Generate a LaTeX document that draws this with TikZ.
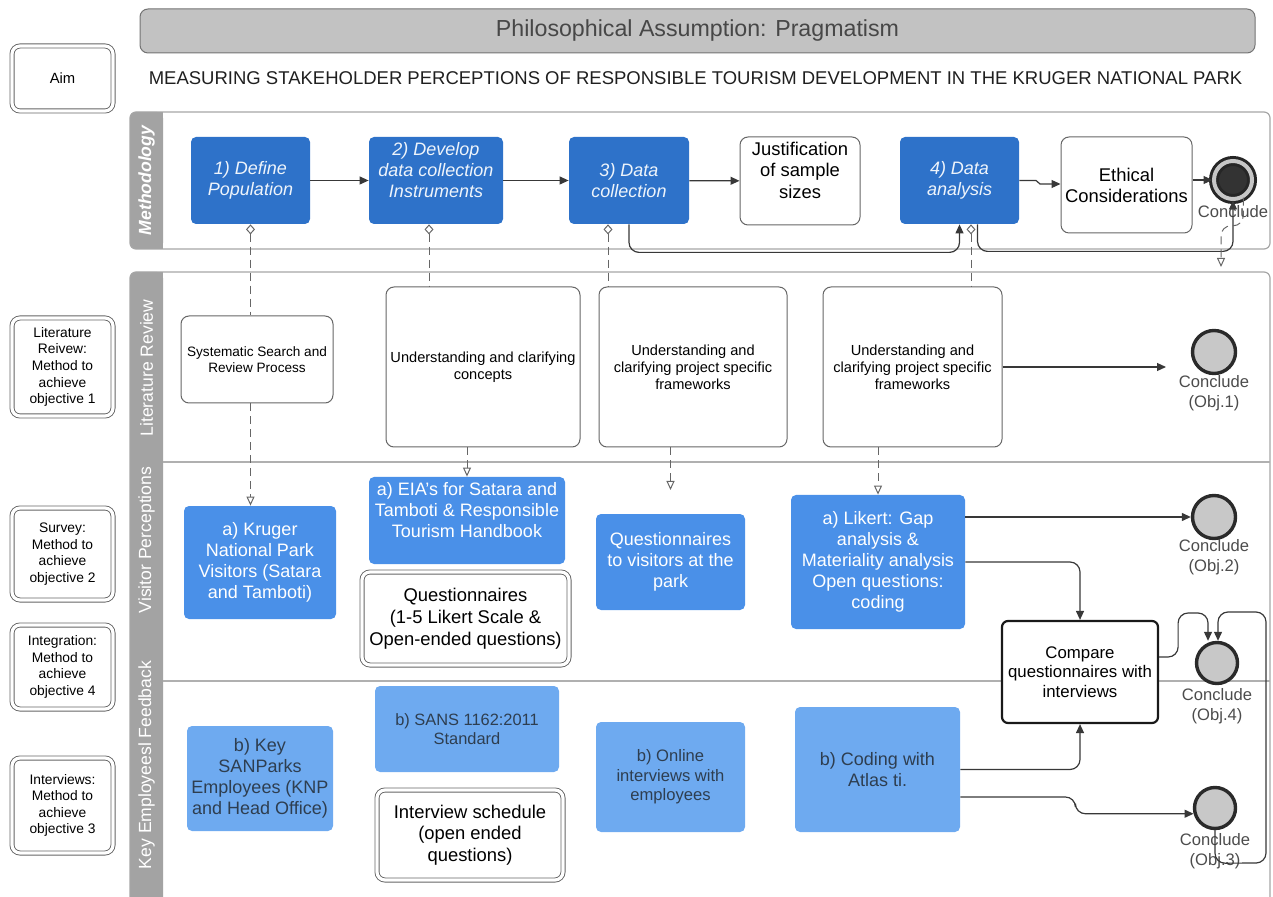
\documentclass[tikz,border=0pt]{standalone}
\usepackage{fontspec}
\setmainfont{Liberation Sans}
\usetikzlibrary{arrows.meta}
\newcommand{\myfs}[2]{\fontsize{#1}{#2}\selectfont}
\definecolor{dblue}{HTML}{2E72C9}
\definecolor{mblue}{HTML}{4A90E8}
\definecolor{lblue}{HTML}{6EAAF0}
\definecolor{bandc}{HTML}{A3A3A3}
\definecolor{titlegray}{HTML}{C2C2C2}
\definecolor{linegray}{HTML}{B0B0B0}
\definecolor{circfill}{HTML}{C8C8C8}
\definecolor{circdraw}{HTML}{2A2A2A}
\definecolor{slate}{HTML}{2E3E50}
\begin{document}
\begin{tikzpicture}[x=0.5pt,y=-0.5pt,
  wh/.style 2 args={minimum width=#1*0.5pt, minimum height=#2*0.5pt},
  bx/.style={rectangle, rounded corners=2.5pt, align=center, inner sep=1pt},
  mbox/.style={bx, fill=dblue, text=white!92!dblue, font=\myfs{9}{10.4}\itshape},
  vbox/.style={bx, fill=mblue, text=white, font=\myfs{9}{10.5}},
  kbox/.style={bx, fill=lblue, text=slate, font=\myfs{9}{10.5}},
  wbox/.style={bx, rounded corners=4pt, draw=black!60, line width=0.5pt, fill=white, text=black},
  dbox/.style={bx, rounded corners=4pt, draw=black!60, line width=0.45pt, double=white, double distance=1.6pt, fill=white, text=black},
  cmpbox/.style={bx, rounded corners=3pt, draw=black!90, line width=1.1pt, fill=white, font=\myfs{8.4}{9.8}},
  endc/.style={circle, draw=circdraw, line width=1.7pt, fill=circfill, inner sep=0pt},
  ctxt/.style={align=center, inner sep=0pt, text=black!70, font=\myfs{8.3}{10}},
  lanetxt/.style={rotate=90, text=white, inner sep=0pt, font=\myfs{8.8}{10}},
  arr/.style={draw=black!78, line width=0.6pt, -{Triangle[length=4.5pt,width=4pt]}},
  dsh/.style={draw=black!60, line width=0.5pt, dash pattern=on 4pt off 2.5pt},
  dstart/.style={{Diamond[open,length=5pt,width=4.5pt]}-},
  dend/.style={-{Triangle[open,length=4.5pt,width=4pt]}},
  pool/.style={draw=black!35, line width=0.6pt}
]
\useasboundingbox (0,0) rectangle (1273,897);

% ---- pools ----
\fill[bandc, rounded corners=3pt] (130,112) rectangle (163,249);
\fill[bandc] (150,112) rectangle (163,249);
\draw[pool, rounded corners=3pt] (130,112) rectangle (1270,249);

\fill[bandc, rounded corners=3pt] (130,272) rectangle (163,910);
\fill[bandc] (150,272) rectangle (163,910);
\draw[pool, rounded corners=3pt] (130,910) -- (130,272) -- (1270,272) -- (1270,910);
\draw[linegray, line width=0.6pt] (163,462) -- (1270,462);
\draw[linegray, line width=0.6pt] (163,681) -- (1270,681);

% ---- header ----
\node[bx, rounded corners=4pt, draw=black!55, line width=0.5pt, fill=titlegray, wh={1115}{44}, font=\myfs{11.6}{13}, text=black!72] (title) at (697.5,31) {Philosophical Assumption: Pragmatism};
\node[dbox, wh={101}{65}, font=\myfs{7.4}{8.6}] (aim) at (62.5,78.5) {Aim};
\node[inner sep=0pt, font=\myfs{9.25}{11}, text=black!88] (aimtxt) at (695.5,78) {MEASURING STAKEHOLDER PERCEPTIONS OF RESPONSIBLE TOURISM DEVELOPMENT IN THE KRUGER NATIONAL PARK};

% ---- lane labels ----
\node[lanetxt, font=\myfs{8.8}{10}\bfseries\itshape] (mlab) at (146.5,180.5) {Methodology};
\node[lanetxt] (llab) at (146.5,368) {Literature Review};
\node[lanetxt] (vlab) at (146.5,540) {Visitor Perceptions};
\node[lanetxt] (klab) at (146.5,765) {Key Employeesl Feedback};

% ---- left labels ----
\node[dbox, wh={101}{98}, font=\myfs{6.9}{8.3}] (litlab) at (62.5,367) {Literature\\Reivew:\\Method to\\achieve\\objective 1};
\node[dbox, wh={101}{92}, font=\myfs{6.9}{8.3}] (survlab) at (62.5,554) {Survey:\\Method to\\achieve\\objective 2};
\node[dbox, wh={101}{84}, font=\myfs{6.9}{8.3}] (intlab) at (62.5,667) {Integration:\\Method to\\achieve\\objective 4};
\node[dbox, wh={101}{95}, font=\myfs{6.9}{8.3}] (intvlab) at (62.5,805.5) {Interviews:\\Method to\\achieve\\objective 3};

% ---- methodology ----
\node[mbox, wh={119}{87}] (b1) at (250.5,180.5) {1) Define\\Population};
\node[mbox, wh={134}{87}] (b2) at (436,180.5) {2) Develop\\data collection\\Instruments\\\mbox{}};
\node[mbox, wh={120}{87}] (b3) at (629,180.5) {3) Data\\collection};
\node[wbox, wh={120}{88}, font=\myfs{9.2}{10.7}] (just) at (800,181) {Justification\\of sample\\sizes\\\mbox{}};
\node[mbox, wh={119}{87}] (b4) at (959.5,180.5) {4) Data\\analysis};
\node[wbox, wh={131}{96}, font=\myfs{9.2}{10.5}] (eth) at (1126.5,185) {Ethical\\Considerations};
\node[circle, draw=black!85, line width=1.5pt, double=gray!45, double distance=2pt, fill=black!80, minimum size=19pt, inner sep=0pt] (conc0) at (1233,180) {};
\node[ctxt] (conc0t) at (1233,212) {Conclude};

% ---- literature review lane ----
\node[wbox, wh={152}{87}, font=\myfs{6.8}{8}] (sys) at (257,359.5) {Systematic Search and\\Review Process};
\node[wbox, wh={194}{160}, font=\myfs{7.3}{8.6}] (conc) at (483,367) {Understanding and clarifying\\concepts};
\node[wbox, wh={188}{160}, font=\myfs{7.3}{8.6}] (fw1) at (693,367) {Understanding and\\clarifying project specific\\frameworks};
\node[wbox, wh={179}{160}, font=\myfs{7.3}{8.6}] (fw2) at (912.5,367) {Understanding and\\clarifying project specific\\frameworks};
\node[endc, minimum size=21.5pt] (obj1) at (1214,352) {};
\node[ctxt] (obj1t) at (1214,393) {Conclude\\(Obj.1)};

% ---- visitor perceptions lane ----
\node[vbox, wh={152}{113}] (kruger) at (260,562.5) {a) Kruger\\National Park\\Visitors (Satara\\and Tamboti)};
\node[vbox, wh={196}{87}] (eia) at (467,520.5) {a) EIA's for Satara and\\Tamboti \& Responsible\\Tourism Handbook\\\mbox{}};
\node[dbox, wh={207}{93}, font=\myfs{9.2}{11}] (quest) at (465.5,618.5) {Questionnaires\\(1-5 Likert Scale \&\\Open-ended questions)};
\node[vbox, wh={149}{96}] (qv) at (670.5,562) {Questionnaires\\to visitors at the\\park};
\node[vbox, wh={174}{134}] (likert) at (878,562) {a) Likert: Gap\\analysis \&\\Materiality analysis\\Open questions:\\coding};
\node[endc, minimum size=21.5pt] (obj2) at (1214,517) {};
\node[ctxt] (obj2t) at (1214,557) {Conclude\\(Obj.2)};
\node[cmpbox, wh={156}{102}] (compare) at (1080,672) {Compare\\questionnaires with\\interviews};
\node[endc, minimum size=20.5pt] (obj4) at (1217,663) {};
\node[ctxt] (obj4t) at (1217,706) {Conclude\\(Obj.4)};

% ---- key employees lane ----
\node[kbox, wh={146}{105}] (key) at (260,778.5) {b) Key\\SANParks\\Employees (KNP\\and Head Office)};
\node[kbox, wh={184}{86}, font=\myfs{8.2}{9.6}] (sans) at (467,729) {b) SANS 1162:2011\\Standard};
\node[dbox, wh={186}{90}, font=\myfs{9.2}{10.8}] (isch) at (470,835) {Interview schedule\\(open ended\\questions)};
\node[kbox, wh={149}{110}, font=\myfs{8.3}{9.8}] (online) at (670.5,777) {b) Online\\interviews with\\employees};
\node[kbox, wh={165}{125}] (coding) at (877.5,769.5) {b) Coding with\\Atlas ti.};
\node[endc, minimum size=20.5pt] (obj3) at (1215,808) {};
\node[ctxt] (obj3t) at (1215,851) {Conclude\\(Obj.3)};

% ---- coordinates for free ends ----
\coordinate (qvtip) at (670.5,490);
\coordinate (obj1tip) at (1166,367);
\coordinate (c0tip) at (1221,267);

% ---- methodology connectors ----
\draw[arr] (b1) -- (b2);
\draw[arr] (b2) -- (b3);
\draw[arr] (b3) -- (just);
\draw[arr] (b4.east) -- (1036,180.5) -- (1040,184) -- (eth.west |- 1040,184);
\draw[arr] (eth.east |- conc0) -- (conc0.west);
\draw[arr, rounded corners=5pt] (b3.south) -- ++(0,28) -| (b4.south);
\draw[arr, rounded corners=5pt] ([xshift=9pt]b4.south) -- ++(0,27) -| (conc0.south);

% ---- dashed links ----
\draw[dsh, dstart] (b1.south) -- (b1.south |- sys.north);
\draw[dsh, dend] (b1.south |- sys.south) -- (b1.south |- kruger.north);
\draw[dsh, dstart] ([xshift=-3.5pt]b2.south) -- ([xshift=-3.5pt]b2.south |- conc.north);
\draw[dsh, dend] (eia.north |- conc.south) -- (eia.north);
\draw[dsh, dstart] ([xshift=-10.5pt]b3.south) -- ([xshift=-10.5pt]b3.south |- fw1.north);
\draw[dsh, dend] (qvtip |- fw1.south) -- (qvtip);
\draw[dsh, dstart] ([xshift=5.75pt]b4.south) -- ([xshift=5.75pt]b4.south |- fw2.north);
\draw[dsh, dend] (likert.north |- fw2.south) -- (likert.north);
\draw[dsh, dstart, dend, rounded corners=5pt] (conc0.-60) -- ++(0,28) -| (c0tip);

% ---- conclusions ----
\draw[arr] (fw2.east) -- (obj1tip);
\draw[arr] (likert.east |- obj2) -- (obj2.west);
\draw[arr, rounded corners=5pt] (likert.east) -| (compare.north);
\draw[arr, rounded corners=5pt] (coding.east) -| (compare.south);
\draw[arr, rounded corners=5pt] ([yshift=-13.75pt]coding.east) -- ++(115,0) |- (obj3.195);
\draw[arr, rounded corners=5pt] ([yshift=7.5pt]compare.east) -- ++(19,0) -- ++(0,-44) -| ([xshift=-4.5pt]obj4.north);
\draw[arr, rounded corners=5pt] (obj3.south) -- ++(0,33) -- (1266,863) -- (1266,612) -| ([xshift=0.5pt]obj4.north);
\end{tikzpicture}
\end{document}
